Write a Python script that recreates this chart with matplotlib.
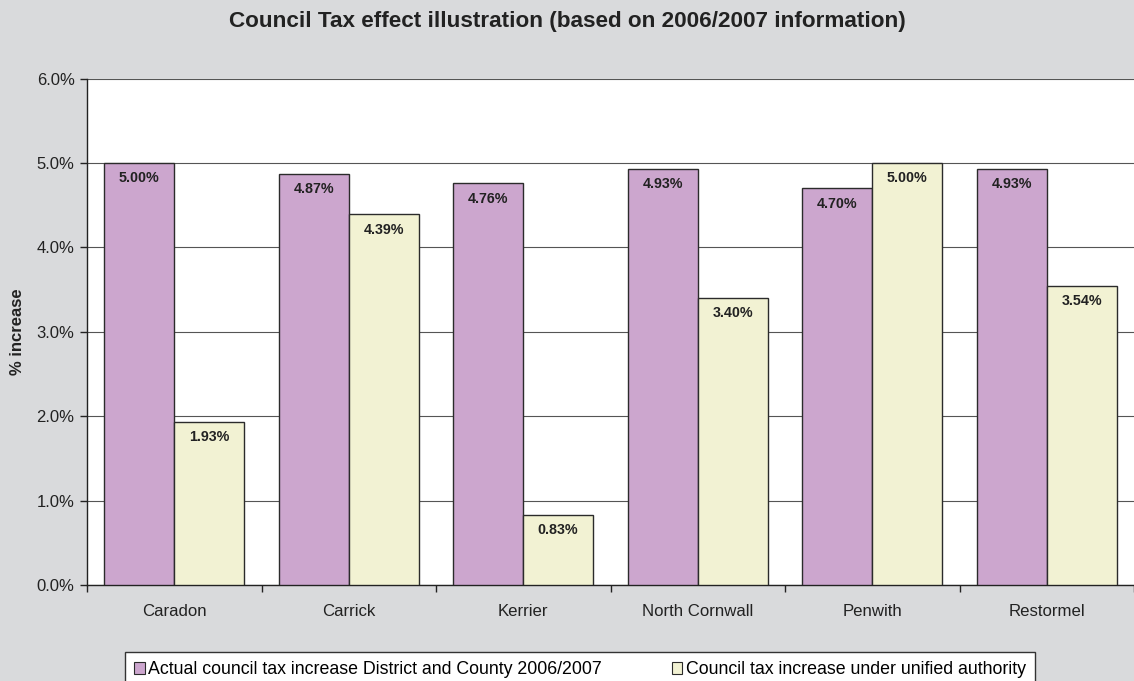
import matplotlib
matplotlib.use("Agg")
import matplotlib.pyplot as plt
import numpy as np
from matplotlib.ticker import FuncFormatter, MultipleLocator

plt.rcParams['font.family'] = ['Liberation Sans', 'DejaVu Sans']

districts = ["Caradon", "Carrick", "Kerrier", "North Cornwall", "Penwith", "Restormel"]
actual_increase = [5.00, 4.87, 4.76, 4.93, 4.70, 4.93]
unified_increase = [1.93, 4.39, 0.83, 3.40, 5.00, 3.54]
series_names = ["Actual council tax increase District and County 2006/2007",
                "Council tax increase under unified authority"]

bg = "#D9DADC"
purple = "#CCA6CE"
cream = "#F2F2D3"
edge = "#2B2B2B"
ink = "#222222"

fig = plt.figure(figsize=(11.34, 6.81), dpi=100, facecolor=bg)
ax = fig.add_axes([87/1134, 1 - 585/681, 1 - 87/1134, (585 - 78.5)/681])
ax.set_facecolor("white")

x = np.arange(len(districts))
w = 0.4
b1 = ax.bar(x - w/2, actual_increase, w, color=purple, edgecolor=edge, linewidth=1.0,
            label=series_names[0], zorder=3)
b2 = ax.bar(x + w/2, unified_increase, w, color=cream, edgecolor=edge, linewidth=1.0,
            label=series_names[1], zorder=3)

for bars, vals in ((b1, actual_increase), (b2, unified_increase)):
    for r, v in zip(bars, vals):
        ax.annotate(f"{v:.2f}%", (r.get_x() + r.get_width()/2, v),
                    xytext=(0, -6), textcoords="offset points",
                    ha="center", va="top", fontsize=10.3, fontweight="bold",
                    color=ink, zorder=4)

ax.set_xlim(-0.5, len(districts) - 0.5)
ax.set_ylim(0, 6.0)
ax.yaxis.set_major_locator(MultipleLocator(1.0))
ax.yaxis.set_major_formatter(FuncFormatter(lambda v, p: f"{v:.1f}%"))
ax.grid(axis="y", color="#555555", linewidth=0.8, zorder=0)
ax.set_axisbelow(True)

ax.set_xticks(x)
ax.set_xticklabels(districts)
ax.set_xticks(np.arange(len(districts) + 1) - 0.5, minor=True)
ax.tick_params(axis="x", which="major", length=0, pad=14, labelsize=12.1, colors=ink)
ax.tick_params(axis="x", which="minor", length=5, width=1, color=ink)
ax.tick_params(axis="y", length=5, width=1, labelsize=12, pad=4, colors=ink)

for s in ("top", "right"):
    ax.spines[s].set_visible(False)
for s in ("left", "bottom"):
    ax.spines[s].set_color(ink)
    ax.spines[s].set_linewidth(1.0)

ax.set_ylabel("% increase", fontsize=12, fontweight="bold", color=ink)
ax.yaxis.set_label_coords(-(87 - 25) / (1134 - 87), 0.5)

fig.text(0.5, 1 - 21/681, "Council Tax effect illustration (based on 2006/2007 information)",
         ha="center", va="center", fontsize=16.2, fontweight="bold", color=ink)

leg = fig.legend(loc="lower center", bbox_to_anchor=(580/1134, -15/681), ncol=2,
                 fontsize=12.8, frameon=True, fancybox=False, framealpha=1.0,
                 handlelength=0.6, handleheight=0.6, handletextpad=0.2,
                 columnspacing=3.9, borderpad=0.5, borderaxespad=0.5)
leg.get_frame().set_edgecolor("#333333")
leg.get_frame().set_linewidth(1.0)
leg.get_frame().set_facecolor("white")
for h in leg.legend_handles:
    h.set_linewidth(0.8)

fig.savefig("out.png", dpi=100, facecolor=bg)
